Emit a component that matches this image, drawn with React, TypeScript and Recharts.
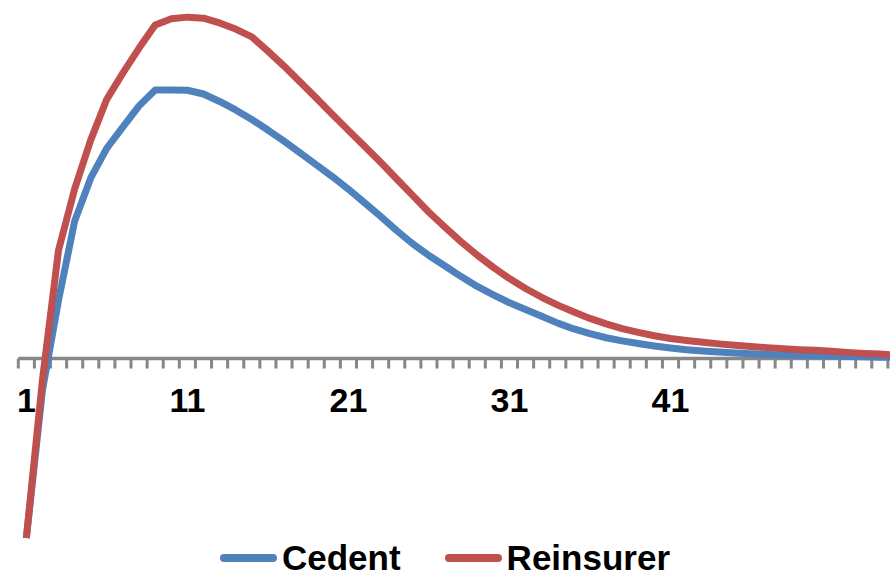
import React from "react";
import { Legend, Line, LineChart, ReferenceDot, ReferenceLine, XAxis, YAxis } from "recharts";

// values, one per period (1..55)
const CEDENT = [
  -52.8, -9.3, 17.2, 40.4, 53.1, 61.9, 68.1, 74.3, 79.0, 79.0,
  78.9, 77.8, 75.6, 73.1, 70.3, 67.2, 63.9, 60.5, 57.0, 53.5,
  49.8, 45.8, 41.8, 37.6, 33.7, 30.3, 27.2, 24.1, 21.2, 18.7,
  16.4, 14.4, 12.4, 10.4, 8.7, 7.3, 6.1, 5.2, 4.4, 3.7,
  3.1, 2.6, 2.2, 1.9, 1.6, 1.4, 1.2, 1.0, 0.9, 0.8,
  0.7, 0.6, 0.5, 0.4, 0.4,
];

const REINSURER = [
  -52.8, -6.3, 31.9, 49.9, 64.3, 76.3, 84.0, 91.3, 98.1, 99.9,
  100.4, 100.1, 98.7, 96.9, 94.6, 90.4, 86.0, 81.3, 76.6, 71.8,
  67.1, 62.4, 57.7, 52.8, 47.9, 43.0, 38.6, 34.3, 30.4, 26.8,
  23.5, 20.6, 18.0, 15.7, 13.7, 11.8, 10.2, 8.8, 7.7, 6.7,
  5.9, 5.3, 4.8, 4.3, 3.9, 3.5, 3.2, 2.9, 2.6, 2.4,
  2.1, 1.8, 1.5, 1.3, 1.0,
];

const PERIODS = CEDENT.map((_, i) => i + 1);
const TICK_LABELS = [1, 11, 21, 31, 41];
const TICK_BOUNDS = [0, ...PERIODS].map((p) => p + 0.5);

const data = PERIODS.map((period, i) => ({
  period,
  cedent: CEDENT[i],
  reinsurer: REINSURER[i],
}));

const FONT = '"Liberation Sans", Arial, sans-serif';
const AXIS_GRAY = "#878787";

function LegendContent({ payload }: any) {
  return (
    <div style={{ display: "flex", justifyContent: "center", alignItems: "center", gap: 44 }}>
      {(payload ?? []).map((entry: any) => (
        <div key={entry.value} style={{ display: "flex", alignItems: "center" }}>
          <span
            style={{
              display: "inline-block",
              width: 57,
              height: 8,
              borderRadius: 4,
              background: entry.color,
              marginRight: 5,
            }}
          />
          <span style={{ fontFamily: FONT, fontSize: 35, fontWeight: "bold", lineHeight: "34px", color: "#000" }}>
            {entry.value}
          </span>
        </div>
      ))}
    </div>
  );
}

export default function App() {
  return (
    <div style={{ position: "absolute", left: 0, top: 0, width: 890, height: 577, overflow: "hidden", background: "#fff" }}>
      <LineChart
        width={904}
        height={577}
        data={data}
        margin={{ top: 1.5, right: 0, bottom: 14.5, left: 18.3 }}
      >
        <XAxis type="number" dataKey="period" domain={[0.5, 55.5]} allowDataOverflow hide />
        <YAxis type="number" domain={[-60, 105]} allowDataOverflow hide width={0} />

        <ReferenceLine y={0} stroke={AXIS_GRAY} strokeWidth={3.5} />
        {TICK_BOUNDS.map((b) => (
          <ReferenceLine
            key={b}
            segment={[
              { x: b, y: 0 },
              { x: b, y: -2.95 },
            ]}
            stroke={AXIS_GRAY}
            strokeWidth={3}
          />
        ))}
        {TICK_LABELS.map((t) => (
          <ReferenceDot
            key={t}
            x={t}
            y={0}
            r={0}
            fill="none"
            stroke="none"
            label={{
              value: String(t),
              position: "bottom",
              offset: 29,
              fill: "#000",
              fontSize: 34,
              fontWeight: "bold",
              fontFamily: FONT,
            }}
          />
        ))}

        <Line
          type="linear"
          dataKey="cedent"
          name="Cedent"
          stroke="#4F81BD"
          strokeWidth={7}
          strokeLinejoin="round"
          dot={false}
          activeDot={false}
          isAnimationActive={false}
        />
        <Line
          type="linear"
          dataKey="reinsurer"
          name="Reinsurer"
          stroke="#C0504D"
          strokeWidth={7}
          strokeLinejoin="round"
          dot={false}
          activeDot={false}
          isAnimationActive={false}
        />

        <Legend
          layout="horizontal"
          verticalAlign="middle"
          align="center"
          content={<LegendContent />}
          wrapperStyle={{ top: 541, left: 0, width: 890, height: 34 }}
        />
      </LineChart>
    </div>
  );
}
